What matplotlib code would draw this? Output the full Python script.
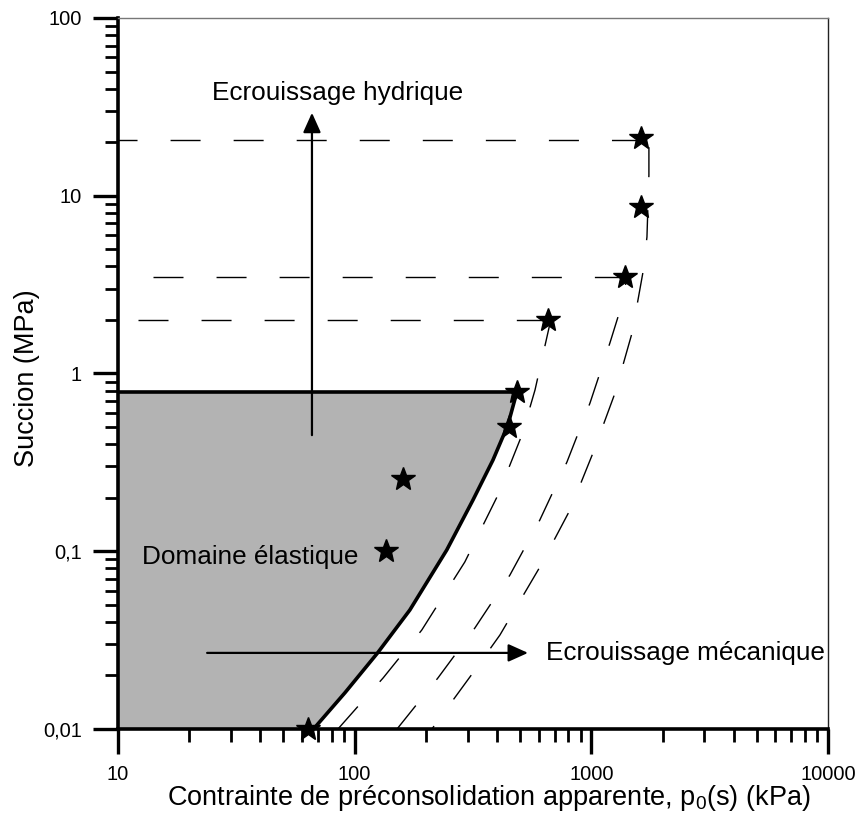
import numpy as np
import matplotlib
matplotlib.use('Agg')
import matplotlib.pyplot as plt
from matplotlib.ticker import FixedLocator, LogLocator, NullFormatter

plt.rcParams['font.family'] = ['Liberation Sans', 'DejaVu Sans']
plt.rcParams['mathtext.fontset'] = 'custom'
plt.rcParams['mathtext.rm'] = 'Liberation Sans'
plt.rcParams['mathtext.it'] = 'Liberation Sans:italic'
plt.rcParams['lines.scale_dashes'] = False

# current LC curve (thick) and SI level
p_lc = [67, 91, 125, 171, 245, 316, 384, 444, 485]
s_lc = [0.01, 0.016, 0.0268, 0.0467, 0.1017, 0.194, 0.326, 0.513, 0.79]
s_si = 0.79

# later yield curves (dashed)
pA = [85, 132, 192, 292, 403, 509, 578, 690]
sA = [0.01, 0.0194, 0.036, 0.087, 0.207, 0.451, 0.807, 2.3]
pB = [151, 225, 322, 453, 606, 789, 987, 1199, 1296, 1420]
sB = [0.01, 0.0194, 0.037, 0.0735, 0.150, 0.318, 0.682, 1.49, 2.08, 3.5]
pC = [212, 316, 411, 606, 813, 1016, 1259, 1486, 1653, 1718, 1751, 1751]
sC = [0.01, 0.0207, 0.0338, 0.0815, 0.171, 0.357, 0.776, 1.69, 3.72, 5.86, 13.1, 19.8]

# measured points (stars)
p_pts = [63.5, 136, 160, 449, 485, 656, 1387, 1622, 1622]
s_pts = [0.01, 0.1, 0.255, 0.5, 0.79, 2.0, 3.49, 8.65, 21.1]

# horizontal SI lines
si_levels = [20.6, 3.5, 2.0]
si_start = [10, 14.1, 12.2]
si_end = [1622, 1387, 656]

xticks = [10, 100, 1000, 10000]
xlabels = ['10', '100', '1000', '10000']
yticks = [0.01, 0.1, 1, 10, 100]
ylabels = ['0,01', '0,1', '1', '10', '100']

fig = plt.figure(figsize=(8.58, 8.19), dpi=100)
ax = fig.add_axes([118/858, 1-729/819, 710/858, 711/819])
ax.set_xscale('log')
ax.set_yscale('log')
ax.set_xlim(10, 10000)
ax.set_ylim(0.01, 100)

dash = (0, (21.6, 23.8))
ax.fill_betweenx(s_lc, 10, p_lc, color='#b3b3b3', lw=0, zorder=1)
ax.plot(p_lc, s_lc, color='black', lw=2.6, zorder=3, solid_joinstyle='round')
ax.plot([10, p_lc[-1]], [s_si, s_si], color='black', lw=2.6, zorder=3)

ax.plot(pA, sA, color='black', lw=1, linestyle=dash, zorder=2)
ax.plot(pB, sB, color='black', lw=1, linestyle=dash, zorder=2)
ax.plot(pC, sC, color='black', lw=1, linestyle=(19, (21.6, 23.8)), zorder=2)

offsets = [7.9, 0, 0]
for lev, a, b, off in zip(si_levels, si_start, si_end, offsets):
    ax.plot([a, b], [lev, lev], color='black', lw=1,
            linestyle=(off, (21.6, 23.8)), zorder=2)

ax.plot(p_pts, s_pts, linestyle='none', marker='*', ms=18, color='black',
        zorder=5, clip_on=False)

arrow = dict(arrowstyle='-|>,head_length=0.6,head_width=0.27', color='black',
             lw=1.6, shrinkA=0, shrinkB=0, mutation_scale=20)
ax.annotate('', xy=(66, 29.3), xytext=(66, 0.45), arrowprops=arrow, zorder=4)
ax.annotate('', xy=(540, 0.0268), xytext=(23.8, 0.0268), arrowprops=arrow, zorder=4)

ax.text(85, 37.8, 'Ecrouissage hydrique', fontsize=18.8, ha='center', va='center')
ax.text(643, 0.0268, 'Ecrouissage mécanique', fontsize=18.8, ha='left', va='center')
ax.text(12.6, 0.093, 'Domaine élastique', fontsize=18.8, ha='left', va='center', zorder=4)

ax.xaxis.set_major_locator(FixedLocator(xticks))
ax.set_xticklabels(xlabels)
ax.yaxis.set_major_locator(FixedLocator(yticks))
ax.set_yticklabels(ylabels)
ax.xaxis.set_minor_locator(LogLocator(base=10, subs=np.arange(2, 10)))
ax.yaxis.set_minor_locator(LogLocator(base=10, subs=np.arange(2, 10)))
ax.xaxis.set_minor_formatter(NullFormatter())
ax.yaxis.set_minor_formatter(NullFormatter())
ax.tick_params(which='major', direction='out', length=18, width=2.4,
               labelsize=14.5, pad=8, top=False, right=False)
ax.tick_params(which='minor', direction='out', length=9.5, width=2,
               top=False, right=False)

ax.spines['left'].set_linewidth(2.6)
ax.spines['bottom'].set_linewidth(2.6)
ax.spines['top'].set_linewidth(1)
ax.spines['top'].set_color('#777777')
ax.spines['right'].set_linewidth(1)
ax.spines['right'].set_color('#222222')
for sp in ax.spines.values():
    sp.set_zorder(6)

ax.set_xlabel('Contrainte de préconsolidation apparente, p$_0$(s) (kPa)', fontsize=19.5)
ax.set_ylabel('Succion (MPa)', fontsize=19.5)
ax.xaxis.set_label_coords(0.5225, -0.076)
ax.yaxis.set_label_coords(-0.11, 0.494)

fig.savefig('out.png', dpi=100)
